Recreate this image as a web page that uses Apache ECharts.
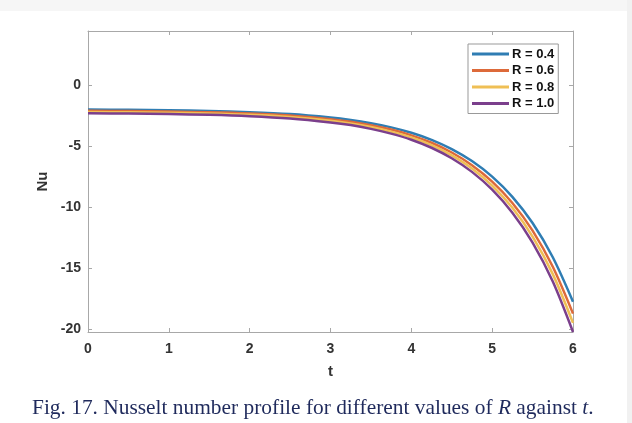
<!DOCTYPE html>
<html>
<head>
<meta charset="utf-8">
<script src="https://cdn.jsdelivr.net/npm/echarts@6/dist/echarts.min.js"></script>
<style>
html,body{margin:0;padding:0;background:#fff;}
#c{width:632px;height:423px;}
</style>
</head>
<body>
<div id="c"></div>
<script>
// ---- data ----
const tValues = [0, 0.5, 1, 1.5, 2, 2.5, 3, 3.25, 3.5, 3.75, 4, 4.25, 4.5, 4.75, 5, 5.25, 5.5, 5.75, 6];
const nuR04 = [-2.00, -2.02, -2.05, -2.11, -2.21, -2.37, -2.65, -2.85, -3.12, -3.46, -3.90, -4.48, -5.24, -6.22, -7.50, -9.16, -11.31, -14.12, -17.76];
const nuR06 = [-2.10, -2.12, -2.16, -2.22, -2.32, -2.49, -2.79, -3.00, -3.28, -3.64, -4.11, -4.72, -5.52, -6.56, -7.91, -9.66, -11.93, -14.90, -18.74];
const nuR08 = [-2.20, -2.22, -2.26, -2.32, -2.43, -2.61, -2.92, -3.14, -3.43, -3.81, -4.29, -4.92, -5.76, -6.83, -8.24, -10.06, -12.42, -15.50, -19.50];
const nuR10 = [-2.30, -2.33, -2.37, -2.43, -2.54, -2.73, -3.05, -3.27, -3.58, -3.97, -4.47, -5.13, -5.99, -7.11, -8.57, -10.46, -12.91, -16.11, -20.25];
const seriesNames = ['R = 0.4', 'R = 0.6', 'R = 0.8', 'R = 1.0'];
const yTicks = [-20, -15, -10, -5, 0];
const xTicks = [0, 1, 2, 3, 4, 5, 6];

const colors = ['#2f7db3', '#dd6a3a', '#efbf55', '#7b3f8c'];
const allSeries = [nuR04, nuR06, nuR08, nuR10];

const axisGray = '#a8a8a8';
const labelFont = {fontFamily: 'Liberation Sans, Arial, sans-serif', fontWeight: 'bold', fontSize: 14, color: '#333'};

const chart = echarts.init(document.getElementById('c'), null, {renderer: 'canvas'});

const option = {
  backgroundColor: '#ffffff',
  animation: false,
  grid: {left: 88, right: 59, top: 31, bottom: 91, containLabel: false},
  legend: {
    left: 468, top: 44,
    orient: 'vertical',
    icon: 'rect',
    itemWidth: 37, itemHeight: 3, itemGap: 2.5,
    padding: [3, 4, 3, 4],
    backgroundColor: '#fff',
    borderColor: '#999', borderWidth: 1,
    textStyle: {fontFamily: 'Liberation Sans, Arial, sans-serif', fontWeight: 'bold', fontSize: 13, color: '#111', padding: [0, 0, 0, -2], lineHeight: 14},
    data: seriesNames
  },
  xAxis: [{
    type: 'value', min: 0, max: 6, interval: 1,
    name: 't', nameLocation: 'middle', nameGap: 32,
    nameTextStyle: {fontFamily: 'Liberation Sans, Arial, sans-serif', fontWeight: 'bold', fontSize: 15, color: '#333'},
    axisLine: {show: true, onZero: false, lineStyle: {color: axisGray, width: 1}},
    axisTick: {show: true, inside: true, length: 4, lineStyle: {color: axisGray}},
    axisLabel: Object.assign({margin: 10, formatter: v => xTicks.includes(v) ? String(v) : ''}, labelFont),
    splitLine: {show: false}
  }, {
    type: 'value', min: 0, max: 6, interval: 1, position: 'top',
    axisLine: {show: true, onZero: false, lineStyle: {color: axisGray, width: 1}},
    axisTick: {show: true, inside: true, length: 4, lineStyle: {color: axisGray}},
    axisLabel: {show: false}, splitLine: {show: false}
  }],
  yAxis: [{
    type: 'value', min: -20.25, max: 4.45,
    name: 'Nu', nameLocation: 'middle', nameGap: 34, nameRotate: 90,
    nameTextStyle: {fontFamily: 'Liberation Sans, Arial, sans-serif', fontWeight: 'bold', fontSize: 15, color: '#333'},
    axisLine: {show: true, onZero: false, lineStyle: {color: axisGray, width: 1}},
    axisTick: {show: true, inside: true, length: 4, customValues: yTicks, lineStyle: {color: axisGray}},
    axisLabel: Object.assign({margin: 7, customValues: yTicks}, labelFont),
    splitLine: {show: false}
  }, {
    type: 'value', min: -20.25, max: 4.45, position: 'right',
    axisLine: {show: true, onZero: false, lineStyle: {color: axisGray, width: 1}},
    axisTick: {show: true, inside: true, length: 4, customValues: yTicks, lineStyle: {color: axisGray}},
    axisLabel: {show: false}, splitLine: {show: false}
  }],
  series: allSeries.map((vals, i) => ({
    name: seriesNames[i],
    type: 'line',
    xAxisIndex: 0, yAxisIndex: 0,
    data: tValues.map((t, k) => [t, vals[k]]),
    smooth: 0.3,
    showSymbol: false,
    symbol: 'none',
    clip: true,
    lineStyle: {color: colors[i], width: 2.5},
    itemStyle: {color: colors[i]},
    z: 2 + i
  })),
  graphic: [
    {type: 'rect', shape: {x: 0, y: 0, width: 632, height: 11}, style: {fill: '#f6f6f6'}, z: -10, silent: true},
    {type: 'rect', shape: {x: 627, y: 0, width: 5, height: 423}, style: {fill: '#f1f1f1'}, z: -10, silent: true},
    {
      type: 'text', left: 32, top: 398,
      style: {
        text: '{n|Fig. 17. Nusselt number profile for different values of }{i|R}{n| against }{i|t}{n|.}',
        rich: {
          n: {fontFamily: 'Liberation Serif, Times New Roman, serif', fontSize: 21.4, fill: '#1f2a5c'},
          i: {fontFamily: 'Liberation Serif, Times New Roman, serif', fontSize: 21.4, fontStyle: 'italic', fill: '#1f2a5c'}
        }
      }
    }
  ]
};
chart.setOption(option);
</script>
</body>
</html>
